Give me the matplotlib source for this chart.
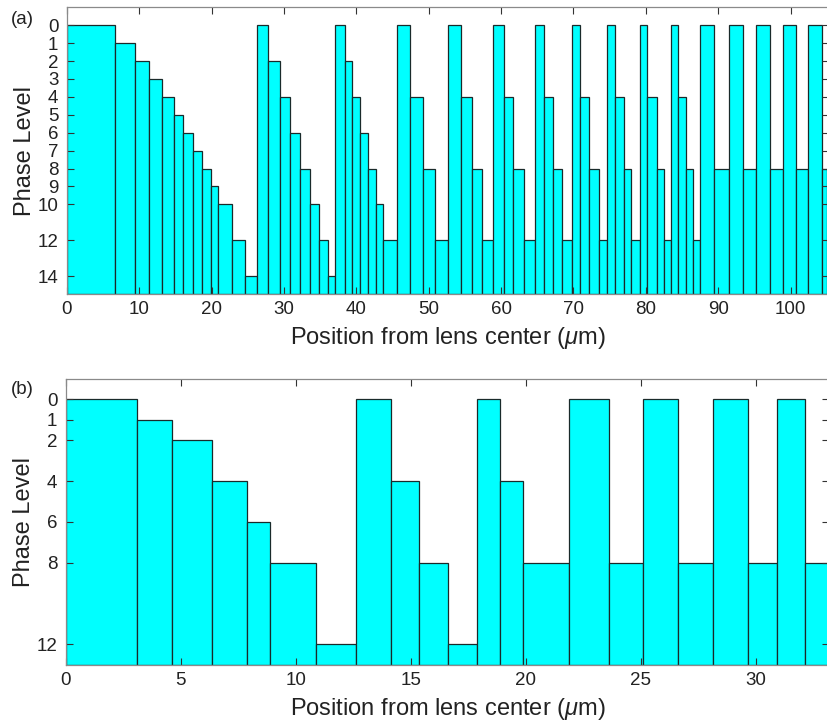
import matplotlib
matplotlib.use("Agg")
import matplotlib.pyplot as plt
import numpy as np

plt.rcParams['font.family'] = ['Liberation Sans', 'DejaVu Sans']
plt.rcParams['mathtext.fontset'] = 'custom'
plt.rcParams['mathtext.it'] = 'Liberation Sans:italic'
plt.rcParams['mathtext.rm'] = 'Liberation Sans'

# ---- Panel (a) data: bar edges (um) and phase levels ----
a_edges = [0, 6.61, 9.37, 11.35, 13.1, 14.8, 16.05, 17.39, 18.63, 19.92, 20.88,
           22.86, 24.61, 26.31,
           27.83, 29.4, 30.88, 32.16, 33.64, 34.88, 36.12, 37.09,
           38.38, 39.39, 40.54, 41.65, 42.66, 43.63, 45.61,
           47.40, 49.15, 50.9, 52.7,
           54.4, 55.92, 57.39, 58.91,
           60.39, 61.67, 63.15, 64.67,
           65.87, 67.2, 68.44, 69.74,
           70.93, 72.17, 73.47, 74.65,
           75.68, 76.92, 77.93, 79.17,
           80.18, 81.48, 82.44, 83.41,
           84.38, 85.48, 86.45, 87.46,
           89.43, 91.46, 93.44, 95.19, 97.17, 98.96, 100.68, 102.42, 104.27, 105.0]
a_levels = [0, 1, 2, 3, 4, 5, 6, 7, 8, 9, 10, 12, 14,
            0, 2, 4, 6, 8, 10, 12, 14,
            0, 2, 4, 6, 8, 10, 12,
            0, 4, 8, 12,
            0, 4, 8, 12,
            0, 4, 8, 12,
            0, 4, 8, 12,
            0, 4, 8, 12,
            0, 4, 8, 12,
            0, 4, 8, 12,
            0, 4, 8, 12,
            0, 8, 0, 8, 0, 8, 0, 8, 0, 8]
a_yticks = [0, 1, 2, 3, 4, 5, 6, 7, 8, 9, 10, 12, 14]
a_xticks = [0, 10, 20, 30, 40, 50, 60, 70, 80, 90, 100]

# ---- Panel (b) data ----
b_edges = [0, 3.11, 4.64, 6.38, 7.88, 8.87, 10.87, 12.62, 14.13, 15.37, 16.63,
           17.9, 18.88, 19.87, 21.87, 23.63, 25.11, 26.63, 28.13, 29.65, 30.91,
           32.16, 33.2]
b_levels = [0, 1, 2, 4, 6, 8, 12, 0, 4, 8, 12, 0, 4, 8, 0, 8, 0, 8, 0, 8, 0, 8]
b_yticks = [0, 1, 2, 4, 6, 8, 12]
b_xticks = [0, 5, 10, 15, 20, 25, 30]

W, H = 827, 726
fig = plt.figure(figsize=(W / 100, H / 100), dpi=100)

spine_col = '#8a8a8a'


def panel(rect, edges, levels, ybot, xmax, yticks, xticks, letter, letter_y):
    ax = fig.add_axes(rect)
    e = np.array(edges)
    lv = np.array(levels, dtype=float)
    ax.bar(e[:-1], ybot - lv, width=np.diff(e), bottom=lv, align='edge',
           color='#00ffff', edgecolor='#1a2a2a', linewidth=0.9)
    ax.set_xlim(0, xmax)
    ax.set_ylim(ybot, -1)
    ax.set_yticks(yticks)
    ax.set_xticks(xticks)
    ax.tick_params(direction='in', length=5, width=0.8, color='#333333',
                   top=True, right=True, labelsize=13.5, labelcolor='#222222')
    ax.tick_params(axis='y', pad=6)
    ax.tick_params(axis='x', pad=5)
    for s in ax.spines.values():
        s.set_color(spine_col)
        s.set_linewidth(0.9)
    ax.set_ylabel('Phase Level', fontsize=17, color='#222222', labelpad=1)
    ax.set_xlabel(r'Position from lens center ($\mu$m)', fontsize=17,
                  color='#222222', labelpad=5)
    fig.text(11 / W, 1 - letter_y / H, letter, fontsize=13.5, color='#222222',
             ha='left', va='center')
    return ax


# axes rects in figure fractions
ax_a = panel([66.8 / W, 1 - 294 / H, (829 - 66.8) / W, (294 - 7.3) / H],
             a_edges, a_levels, 15, 105.3, a_yticks, a_xticks, '(a)', 19.5)
ax_b = panel([65.7 / W, 1 - 664.7 / H, (829.3 - 65.7) / W, (664.7 - 379) / H],
             b_edges, b_levels, 13, 33.2, b_yticks, b_xticks, '(b)', 389.5)

fig.savefig('out.png', dpi=100)
